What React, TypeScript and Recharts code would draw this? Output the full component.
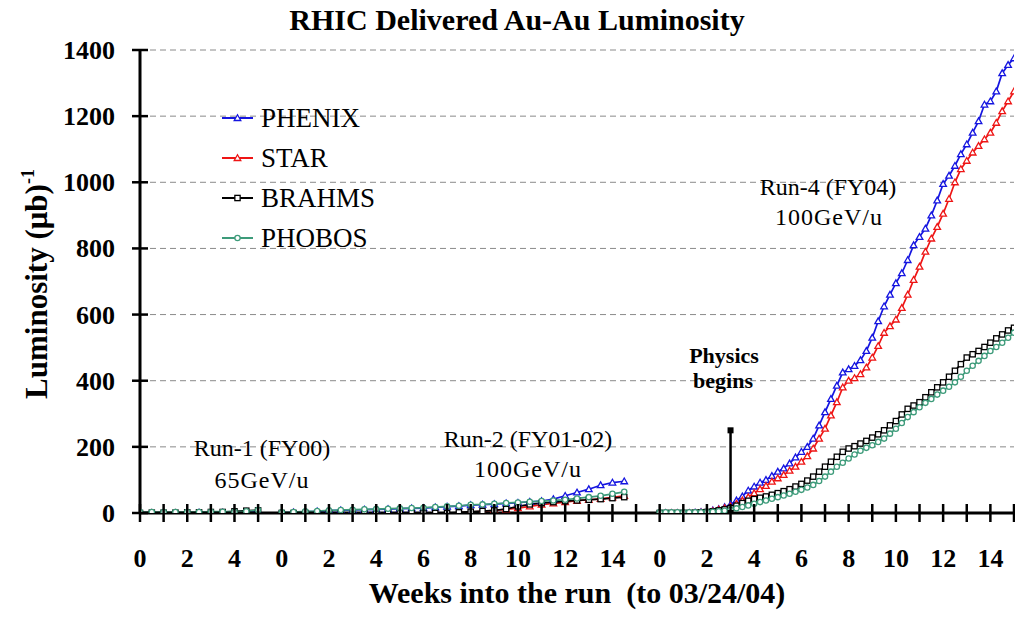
import React from 'react';
import { LineChart, Line, XAxis, YAxis, CartesianGrid } from 'recharts';

const FONT = "'Liberation Serif', 'Times New Roman', serif";

// ---- Data (weeks into each run, luminosity in (μb)^-1) ----
const runNames = ['Run-1', 'Run-2', 'Run-4'];
const runStart = [0, 6, 22]; // position of week 0 of each run on the shared axis

const run1Weeks = [0, 0.5, 1, 1.5, 2, 2.5, 3, 3.5, 4, 4.5, 5];
const run1Phenix = [0, 0, 0, 0, 0, 1, 1, 1, 2, 3, 4];
const run1Star = [0, 0, 0, 0, 0, 0, 0, 0, 0, 0, 0];
const run1Brahms = [0, 1, 1, 1, 2, 2, 3, 3, 5, 7, 8];
const run1Phobos = [3, 3, 3, 3, 3, 3, 4, 4, 4, 5, 9];

const run2Weeks = [0, 0.5, 1, 1.5, 2, 2.5, 3, 3.5, 4, 4.5, 5, 5.5, 6, 6.5, 7, 7.5, 8, 8.5, 9, 9.5, 10, 10.5, 11, 11.5, 12, 12.5, 13, 13.5, 14, 14.5];
const run2Phenix = [1, 2, 4, 5, 7, 8, 9, 10, 11, 12, 13, 14, 15, 17, 19, 21, 24, 25, 27, 29, 31, 34, 36, 42, 52, 62, 72, 84, 92, 96];
const run2Star = [0, 0, 0, 0, 0, 0, 0, 0, 0, 0, 0, 0, 0, 0, 0, 1, 3, 5, 8, 11, 15, 20, 25, 29, 33, 37, 40, 43, 47, 52];
const run2Brahms = [0, 0, 0, 0, 0, 0, 0, 0, 0, 0, 0, 0, 0, 0, 0, 2, 4, 6, 8, 12, 20, 26, 30, 33, 36, 38, 40, 42, 45, 48];
const run2Phobos = [2, 3, 5, 6, 8, 9, 10, 11, 12, 13, 14, 15, 16, 18, 20, 22, 25, 26, 28, 30, 32, 34, 36, 38, 40, 44, 48, 52, 58, 64];

const run4Weeks = [
  0, 0.25, 0.5, 0.75, 1, 1.25, 1.5, 1.75, 2, 2.25, 2.5, 2.75, 3, 3.25, 3.5, 3.75, 4, 4.25, 4.5, 4.75,
  5, 5.25, 5.5, 5.75, 6, 6.25, 6.5, 6.75, 7, 7.25, 7.5, 7.75, 8, 8.25, 8.5, 8.75, 9, 9.25, 9.5, 9.75,
  10, 10.25, 10.5, 10.75, 11, 11.25, 11.5, 11.75, 12, 12.25, 12.5, 12.75, 13, 13.25, 13.5, 13.75, 14, 14.25, 14.5, 14.75, 15,
];
const run4Phenix = [
  0, 0, 0, 0, 0, 0, 1, 3, 5, 8, 12, 18, 25, 38, 50, 68, 80, 92, 100, 112,
  125, 135, 150, 168, 185, 200, 225, 265, 305, 345, 385, 425, 435, 445, 462, 490, 530, 580, 625, 660,
  695, 725, 765, 810, 835, 860, 900, 945, 995, 1020, 1050, 1085, 1115, 1150, 1185, 1235, 1245, 1275, 1330, 1355, 1375,
];
const run4Star = [
  0, 0, 0, 0, 0, 0, 0, 1, 3, 6, 10, 15, 20, 28, 38, 48, 60, 72, 82, 95,
  105, 115, 128, 140, 155, 172, 195, 225, 255, 295, 335, 380, 400, 408, 420, 440, 470, 505, 545, 565,
  585, 620, 660, 705, 745, 790, 830, 865, 905, 950, 1000, 1040, 1065, 1090, 1110, 1130, 1150, 1180, 1215, 1245, 1275,
];
const run4Brahms = [
  0, 0, 0, 0, 0, 0, 1, 2, 3, 5, 8, 11, 15, 22, 30, 37, 42, 46, 50, 55,
  60, 66, 72, 80, 88, 98, 110, 125, 140, 155, 170, 185, 195, 202, 210, 218, 228, 238, 250, 265,
  278, 298, 315, 325, 335, 350, 365, 380, 395, 412, 430, 450, 470, 480, 490, 502, 515, 528, 540, 552, 560,
];
const run4Phobos = [
  2, 2, 2, 2, 2, 2, 2, 2, 3, 4, 5, 7, 10, 14, 18, 23, 28, 33, 38, 43,
  48, 53, 58, 64, 70, 77, 85, 97, 110, 125, 140, 152, 165, 177, 188, 197, 205, 215, 225, 240,
  255, 272, 290, 305, 320, 333, 345, 358, 370, 382, 395, 412, 430, 445, 460, 475, 490, 502, 515, 530, 545,
];

const physicsWeek = 3; // Run-4 week at which physics begins
const physicsMarker = [0, 250];

const yTicks = [0, 200, 400, 600, 800, 1000, 1200, 1400];
const run1TickLabels = ['0', '2', '4'];
const run2TickLabels = ['0', '2', '4', '6', '8', '10', '12', '14'];
const run4TickLabels = ['0', '2', '4', '6', '8', '10', '12', '14'];
const xMax = 37;

const seriesNames = ['PHENIX', 'STAR', 'BRAHMS', 'PHOBOS'];
const seriesColors = ['#1515e0', '#ee1515', '#000000', '#3d9b7a'];
const seriesShapes = ['triangle', 'triangle', 'square', 'circle'];

// ---- build tables ----
type Pt = { x: number; y: number | null };
function buildSeries(r1: number[], r2: number[], r4: number[]): Pt[] {
  const pts: Pt[] = [];
  run1Weeks.forEach((w, i) => pts.push({ x: runStart[0] + w, y: r1[i] }));
  pts.push({ x: 5.6, y: null });
  run2Weeks.forEach((w, i) => pts.push({ x: runStart[1] + w, y: r2[i] }));
  pts.push({ x: 21.5, y: null });
  run4Weeks.forEach((w, i) => pts.push({ x: runStart[2] + w, y: r4[i] }));
  return pts;
}
const seriesData: Pt[][] = [
  buildSeries(run1Phenix, run2Phenix, run4Phenix),
  buildSeries(run1Star, run2Star, run4Star),
  buildSeries(run1Brahms, run2Brahms, run4Brahms),
  buildSeries(run1Phobos, run2Phobos, run4Phobos),
];
const physicsData = physicsMarker.map((v) => ({ x: runStart[2] + physicsWeek, y: v }));

const xLabelMap: Record<number, string> = {};
[run1TickLabels, run2TickLabels, run4TickLabels].forEach((labels, r) => {
  labels.forEach((l) => {
    xLabelMap[runStart[r] + Number(l)] = l;
  });
});
const xTicks: number[] = [];
for (let i = 0; i <= xMax; i++) xTicks.push(i);

// ---- marker shapes ----
function Marker({ shape, cx, cy, color, s = 3.3 }: { shape: string; cx: number; cy: number; color: string; s?: number }) {
  if (shape === 'triangle') {
    const pts = `${cx},${cy - s} ${cx + s},${cy + s * 0.75} ${cx - s},${cy + s * 0.75}`;
    return <polygon points={pts} fill="#fff" stroke={color} strokeWidth={1.3} />;
  }
  if (shape === 'square') {
    return <rect x={cx - s * 0.8} y={cy - s * 0.8} width={s * 1.6} height={s * 1.6} fill="#fff" stroke={color} strokeWidth={1.3} />;
  }
  return <circle cx={cx} cy={cy} r={s * 0.8} fill="#fff" stroke={color} strokeWidth={1.3} />;
}

const makeDot = (shape: string, color: string) => (props: any) => {
  const { cx, cy, index, payload } = props;
  if (cx == null || cy == null || payload == null || payload.y == null) return <g key={`d${index}`} />;
  return (
    <g key={`d${index}`}>
      <Marker shape={shape} cx={cx} cy={cy} color={color} />
    </g>
  );
};

const squareDot = (props: any) => {
  const { cx, cy, index } = props;
  if (cx == null || cy == null) return <g key={`p${index}`} />;
  return <rect key={`p${index}`} x={cx - 3} y={cy - 3} width={6} height={6} fill="#000" />;
};

const XTick = (props: any) => {
  const { x, y, payload } = props;
  const label = xLabelMap[payload.value];
  return (
    <g>
      <line x1={x} x2={x} y1={y - 9} y2={y + 9} stroke="#000" strokeWidth={2.5} />
      {label !== undefined && (
        <text x={x} y={y + 54} textAnchor="middle" fontFamily={FONT} fontWeight="bold" fontSize={26} fill="#000">
          {label}
        </text>
      )}
    </g>
  );
};

const YTick = (props: any) => {
  const { x, y, payload } = props;
  return (
    <g>
      <line x1={x - 8} x2={x + 8} y1={y} y2={y} stroke="#000" strokeWidth={2.5} />
      <text x={x - 25} y={y + 9} textAnchor="end" fontFamily={FONT} fontWeight="bold" fontSize={26} fill="#000">
        {payload.value}
      </text>
    </g>
  );
};

export default function App() {
  const W = 1015;
  const H = 619;
  return (
    <div style={{ position: 'absolute', left: 0, top: 0, width: W, height: H, background: '#fff' }}>
      <LineChart width={W} height={H} margin={{ top: 50, right: 1, bottom: 0, left: 0 }}>
        <CartesianGrid vertical={false} stroke="#8a8a8a" strokeDasharray="6 4" strokeWidth={1} />
        <XAxis
          dataKey="x"
          type="number"
          domain={[0, xMax]}
          ticks={xTicks}
          interval={0}
          height={106}
          tickSize={0}
          tickMargin={0}
          tickLine={false}
          axisLine={{ stroke: '#000', strokeWidth: 3 }}
          tick={<XTick />}
          allowDataOverflow
        />
        <YAxis
          type="number"
          domain={[0, 1400]}
          ticks={yTicks}
          interval={0}
          width={140}
          tickSize={0}
          tickMargin={0}
          tickLine={false}
          axisLine={{ stroke: '#000', strokeWidth: 3 }}
          tick={<YTick />}
          allowDataOverflow
        />
        {seriesData.map((d, i) => (
          <Line
            key={seriesNames[i]}
            data={d}
            dataKey="y"
            name={seriesNames[i]}
            type="linear"
            stroke={seriesColors[i]}
            strokeWidth={1.7}
            dot={makeDot(seriesShapes[i], seriesColors[i])}
            activeDot={false}
            connectNulls={false}
            isAnimationActive={false}
          />
        ))}
        <Line
          data={physicsData}
          dataKey="y"
          name="physics"
          stroke="#000"
          strokeWidth={2.5}
          dot={squareDot}
          activeDot={false}
          isAnimationActive={false}
        />
      </LineChart>
      <svg width={W} height={H} style={{ position: 'absolute', left: 0, top: 0, pointerEvents: 'none' }}>
        <text x={517} y={30} textAnchor="middle" fontFamily={FONT} fontWeight="bold" fontSize={30} fill="#000">
          RHIC Delivered Au-Au Luminosity
        </text>
        <text
          transform="translate(47,284) rotate(-90)"
          textAnchor="middle"
          fontFamily={FONT}
          fontWeight="bold"
          fontSize={31}
          fill="#000"
        >
          Luminosity (μb)<tspan fontSize={18} dy={-13}>-1</tspan>
        </text>
        <text x={577} y={603} textAnchor="middle" fontFamily={FONT} fontWeight="bold" fontSize={30} fill="#000">
          {'Weeks into the run\u00a0\u00a0(to 03/24/04)'}
        </text>

        {seriesNames.map((n, i) => {
          const cy = 118 + i * 40;
          return (
            <g key={n}>
              <line x1={222} x2={253} y1={cy} y2={cy} stroke={seriesColors[i]} strokeWidth={2} />
              <Marker shape={seriesShapes[i]} cx={237.5} cy={cy} color={seriesColors[i]} />
              <text x={261} y={cy + 9} fontFamily={FONT} fontSize={27} fill="#000">
                {n}
              </text>
            </g>
          );
        })}

        <text x={262} y={456} textAnchor="middle" fontFamily={FONT} fontSize={24} fill="#000">
          {runNames[0]} (FY00)
        </text>
        <text x={262} y={488} textAnchor="middle" fontFamily={FONT} fontSize={24} fill="#000" letterSpacing={1}>
          65GeV/u
        </text>
        <text x={528} y={447} textAnchor="middle" fontFamily={FONT} fontSize={24} fill="#000">
          {runNames[1]} (FY01-02)
        </text>
        <text x={528} y={477} textAnchor="middle" fontFamily={FONT} fontSize={24} fill="#000" letterSpacing={1}>
          100GeV/u
        </text>
        <text x={828} y={195} textAnchor="middle" fontFamily={FONT} fontSize={24} fill="#000">
          {runNames[2]} (FY04)
        </text>
        <text x={829} y={225} textAnchor="middle" fontFamily={FONT} fontSize={24} fill="#000" letterSpacing={1}>
          100GeV/u
        </text>
        <text x={724} y={363} textAnchor="middle" fontFamily={FONT} fontWeight="bold" fontSize={22} fill="#000">
          Physics
        </text>
        <text x={723} y={388} textAnchor="middle" fontFamily={FONT} fontWeight="bold" fontSize={22} fill="#000">
          begins
        </text>
      </svg>
    </div>
  );
}
